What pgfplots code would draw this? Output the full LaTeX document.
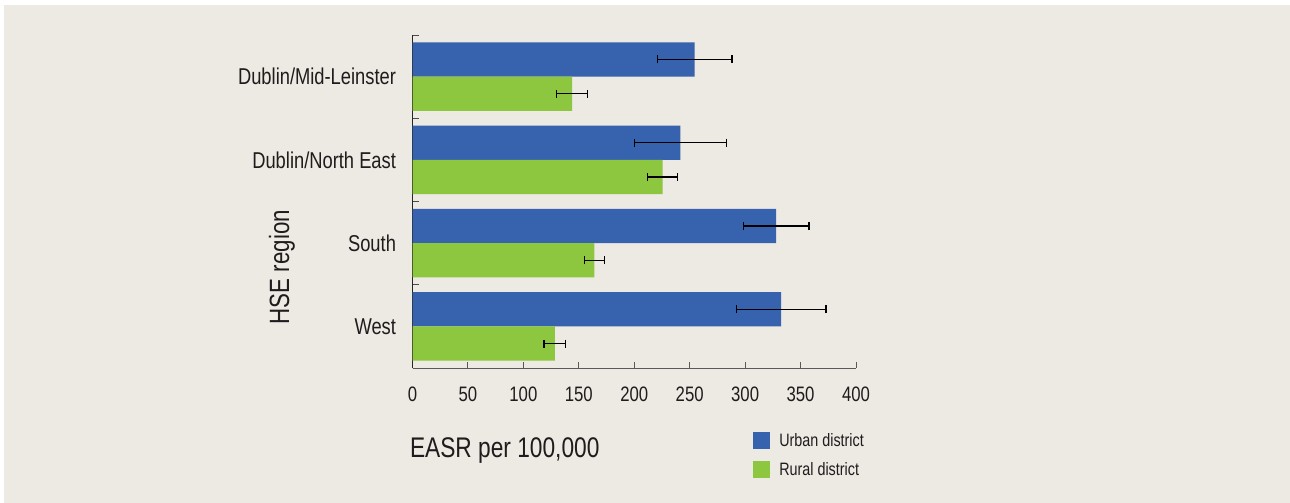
\documentclass[border=0pt]{standalone}
\usepackage{fontspec}
\setmainfont{Liberation Sans}[FakeStretch=0.8]
\usepackage{pgfplots}
\pgfplotsset{compat=1.18}
\definecolor{bg}{RGB}{237,234,228}
\definecolor{urb}{RGB}{55,98,174}
\definecolor{rur}{RGB}{141,198,63}
\definecolor{txt}{RGB}{30,28,28}
\begin{document}
\begin{tikzpicture}
\path[use as bounding box, fill=white] (0bp,0bp) rectangle (1290bp,-503bp);
\fill[bg] (4bp,-5bp) rectangle (1290bp,-503bp);
\begin{axis}[
  at={(412.5bp,-368bp)}, anchor=south west,
  width=443.5bp, height=333bp, scale only axis,
  xbar, bar width=34.3bp,
  xmin=0, xmax=400, ymin=-0.5, ymax=3.5,
  xtick={0,50,...,400},
  ytick={0,1,2,3},
  yticklabels={West,South,Dublin/North East,Dublin/Mid-Leinster},
  minor ytick={-0.5,0.5,1.5,2.5,3.5},
  axis x line*=bottom, axis y line*=left,
  axis line style={-},
  x axis line style={draw=black!65, line width=1bp},
  y axis line style={draw=black!85, line width=1.2bp},
  tick align=inside, major tick length=6bp, minor tick length=6bp,
  major y tick style={draw=none},
  minor y tick style={draw=black!70, line width=1bp},
  major x tick style={draw=black!65, line width=1bp},
  /pgf/number format/assume math mode=true,
  xticklabel style={font=\fontsize{21}{25}\selectfont, text=txt, yshift=-15bp},
  yticklabel style={font=\fontsize{23}{27}\selectfont, text=txt, xshift=-13bp},
  xlabel={EASR per 100,000},
  xlabel style={font=\fontsize{28.5}{32}\selectfont, text=txt, at={(axis description cs:0,0)}, anchor=north west, xshift=-6bp, yshift=-66bp},
  ylabel={HSE region},
  ylabel style={font=\fontsize{28}{32}\selectfont, text=txt, at={(axis description cs:-0.2943,0.303)}, anchor=center},
  legend style={at={(axis description cs:0.768,-0.189)}, anchor=north west, draw=none, fill=none, inner sep=0pt, row sep=11bp, column sep=7bp, font=\fontsize{18}{21}\selectfont, text=txt},
  legend cell align=left,
  legend image code/.code={\fill[#1] (0bp,-8.5bp) rectangle (17bp,8.5bp);},
]
\addplot[fill=urb, draw=none, bar shift=17.15bp,
  error bars/.cd, x dir=both, x explicit, error mark=|,
  error bar style={draw=black, line width=1.4bp},
  error mark options={draw=black, line width=1.4bp, mark size=4bp}]
coordinates {
  (254.5,3) +- (33.5,0)
  (241.5,2) +- (41.5,0)
  (328,1) +- (29.5,0)
  (332.5,0) +- (40.5,0)
};
\addlegendentry{Urban district}
\addplot[fill=rur, draw=none, bar shift=-17.15bp,
  error bars/.cd, x dir=both, x explicit, error mark=|,
  error bar style={draw=black, line width=1.4bp},
  error mark options={draw=black, line width=1.4bp, mark size=4bp}]
coordinates {
  (144,3) +- (14,0)
  (225.5,2) +- (13.5,0)
  (164,1) +- (9,0)
  (128.5,0) +- (9.75,0)
};
\addlegendentry{Rural district}
\end{axis}
\end{tikzpicture}
\end{document}
